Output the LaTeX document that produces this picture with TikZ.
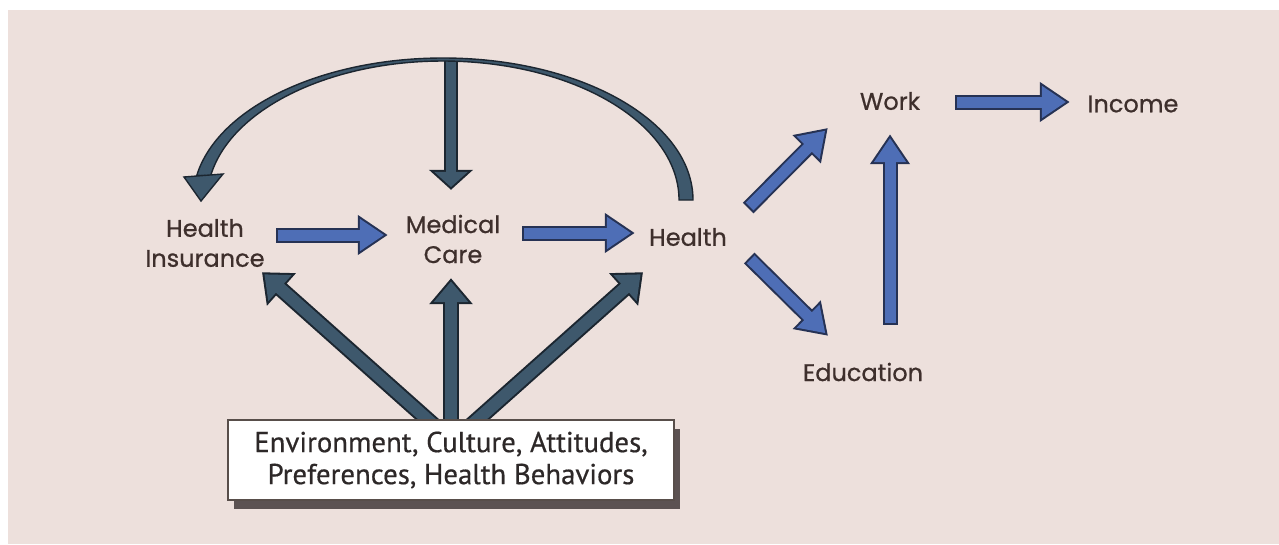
\documentclass[tikz,border=0pt]{standalone}
\usepackage{fontspec}
\setmainfont{PT Sans}
\newfontfamily\labfont{Poppins}[FakeBold=0.7]
\newfontfamily\boxfont{PT Sans}[FakeBold=0.5]
\usetikzlibrary{arrows.meta,calc,shadows}
\definecolor{bgc}{RGB}{237,224,220}
\definecolor{labc}{RGB}{62,47,44}
\definecolor{boxtc}{RGB}{45,40,40}
\definecolor{boxbc}{RGB}{88,78,74}
\definecolor{shadc}{RGB}{92,82,82}
\definecolor{bluef}{RGB}{78,110,182}
\definecolor{blued}{RGB}{38,50,84}
\definecolor{slatef}{RGB}{62,88,108}
\definecolor{slated}{RGB}{28,38,48}
\newcommand{\blockarrow}[3]{\draw[#1out] #2 -- #3; \draw[#1in] #2 -- #3;}
\begin{document}
\begin{tikzpicture}[x=1pt,y=-1pt,
  lab/.style={font=\labfont\fontsize{24}{30}\selectfont, text=labc, align=center, inner sep=0pt},
  blueout/.style={draw=blued, line width=15pt, -{Triangle[length=30pt,width=38pt]}},
  bluein/.style={draw=bluef, line width=11pt, shorten >=3.7pt, shorten <=2pt, -{Triangle[length=24.3pt,width=30.7pt]}},
  slateout/.style={draw=slated, line width=16pt, -{Triangle[length=26pt,width=42pt]}},
  slatein/.style={draw=slatef, line width=12pt, shorten >=3.2pt, shorten <=2pt, -{Triangle[length=20.8pt,width=33.6pt]}},
  topout/.style={draw=slated, line width=14pt, -{Triangle[length=20pt,width=43pt]}},
  topin/.style={draw=slatef, line width=10pt, shorten >=2.7pt, shorten <=0pt, -{Triangle[length=15.3pt,width=32.8pt]}},
  envbox/.style={draw=boxbc, line width=1.5pt, fill=white, minimum width=446pt, minimum height=80pt, inner sep=0pt,
     align=center, text=boxtc, font=\boxfont\fontsize{28.8}{32}\selectfont,
     drop shadow={shadow xshift=6pt, shadow yshift=-9pt, fill=shadc, opacity=1}}
]
\useasboundingbox (0,0) rectangle (1279,544);
\fill[bgc] (8,10) rectangle (1279,544);

% labels
\node[lab, minimum width=120pt, minimum height=56pt] (hi) at (205,243) {Health\\Insurance};
\node[lab, minimum width=104pt, minimum height=56pt] (mc) at (453,239) {Medical\\Care};
\node[lab, minimum width=84pt, minimum height=28pt] (he) at (688,237) {Health};
\node[lab, minimum width=80pt, minimum height=28pt] (wk) at (890,101) {Work};
\node[lab, minimum width=96pt, minimum height=28pt] (inc) at (1133,104) {Income};
\node[lab, minimum width=126pt, minimum height=28pt] (ed) at (863,372) {Education};

% top vertical arrow and arc
\coordinate (arcTop) at (451,60);
\blockarrow{top}{(arcTop)}{([shift={(-2,-21)}]mc.north)}
\coordinate (arcR) at (693,200);
\filldraw[fill=slatef, draw=slated, line width=1.4pt]
  (arcR) arc[start angle=0, end angle=170, x radius=250pt, y radius=142pt]
  -- (210.6,175.9) arc[start angle=170, end angle=0, x radius=236pt, y radius=139pt] -- cycle;
\coordinate (arcTip) at (201,201);
\filldraw[fill=slatef, draw=slated, line width=1.4pt] (184,177) -- (223,174) -- (arcTip) -- cycle;

% main chain
\blockarrow{blue}{([shift={(11,-8)}]hi.east)}{([shift={(-13,-4)}]mc.west)}
\blockarrow{blue}{([shift={(17,-6)}]mc.east)}{([shift={(-11,-4)}]he.west)}
\blockarrow{blue}{([shift={(18,-29)}]he.east)}{([shift={(-22,27)}]wk.west)}
\blockarrow{blue}{([shift={(19,21)}]he.east)}{([shift={(-35,-22)}]ed.north)}
\blockarrow{blue}{([shift={(27,-33)}]ed.north)}{([shift={(0,19)}]wk.south)}
\blockarrow{blue}{([shift={(25,1)}]wk.east)}{([shift={(-15,-2)}]inc.west)}

% box and its arrows
\coordinate (boxTop) at (451,420);
\blockarrow{slate}{([shift={(-14,8)}]boxTop)}{([shift={(57,1)}]hi.south)}
\blockarrow{slate}{([shift={(17,8)}]boxTop)}{([shift={(-45,21)}]he.south)}
\blockarrow{slate}{([shift={(0,8)}]boxTop)}{([shift={(-2,11)}]mc.south)}
\node[envbox] (env) at (451,460) {Environment, Culture, Attitudes,\\Preferences, Health Behaviors};
\end{tikzpicture}
\end{document}
